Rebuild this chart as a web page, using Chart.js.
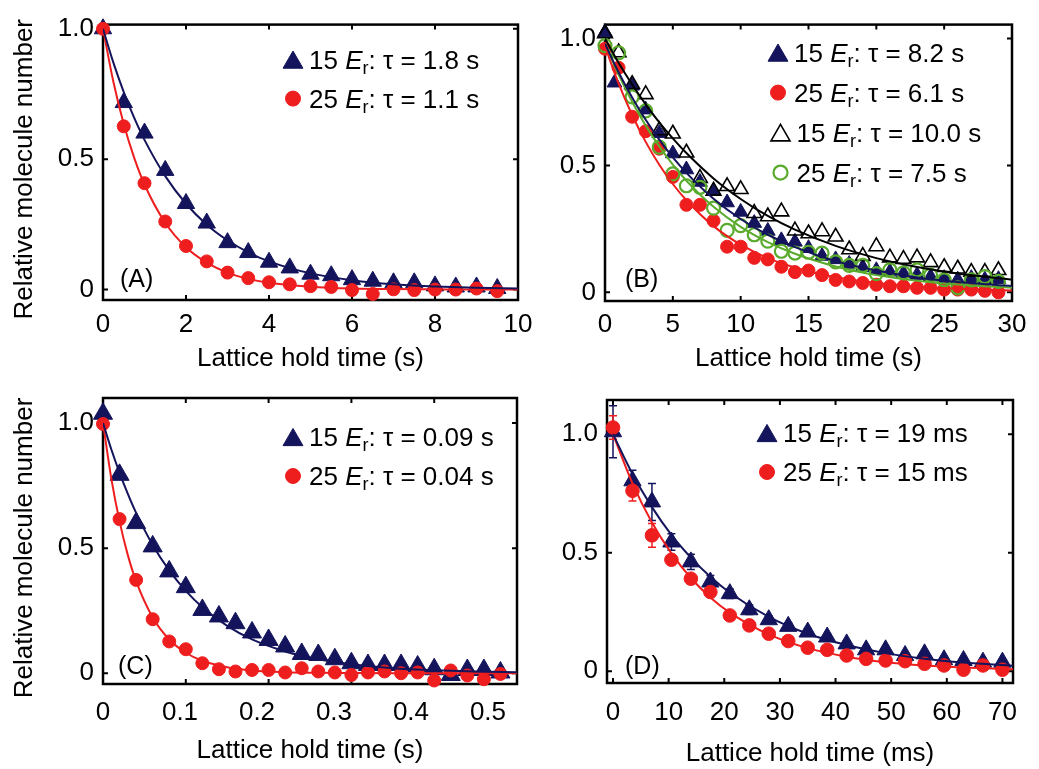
<!DOCTYPE html>
<html>
<head>
<meta charset="utf-8">
<title>Molecule loss in the lattice</title>
<script src="https://cdn.jsdelivr.net/npm/chart.js"></script>
<style>
  html, body { margin: 0; padding: 0; background: #fff; }
  #wrap { position: relative; width: 1039px; height: 769px; }
  #wrap canvas { position: absolute; left: 0; top: 0; }
</style>
</head>
<body>
<div id="wrap">
  <canvas id="panelA" width="1039" height="769"></canvas>
  <canvas id="panelB" width="1039" height="769"></canvas>
  <canvas id="panelC" width="1039" height="769"></canvas>
  <canvas id="panelD" width="1039" height="769"></canvas>
</div>
<script>
const FONT = "'Liberation Sans', Arial, Helvetica, sans-serif"
const NAVY = '#14145c'
const RED = '#ef1e1e'
const GREEN = '#5aab2c'
const BLACK = '#000000'

// shared y axis
const yTickVals = [0, 0.5, 1]
const yTickText = ['0', '0.5', '1.0']

// ---- (A) hold time in s
const aTime = [0, 0.5, 1, 1.5, 2, 2.5, 3, 3.5, 4, 4.5, 5, 5.5, 6, 6.5, 7, 7.5, 8, 8.5, 9, 9.5]
const aNavy = [1.0, 0.717, 0.60, 0.457, 0.33, 0.255, 0.18, 0.142, 0.105, 0.083, 0.059, 0.053, 0.038, 0.032, 0.026, 0.026, 0.014, 0.01, 0.01, 0.004]
const aRed = [1.0, 0.626, 0.408, 0.261, 0.167, 0.108, 0.065, 0.044, 0.028, 0.02, 0.013, 0.01, -0.002, -0.017, 0.001, -0.002, 0, 0, 0.004, -0.006]
const aFitTime = [0, 0.25, 0.5, 0.75, 1, 1.5, 2, 2.5, 3, 3.5, 4, 5, 6, 7, 8, 9, 10]
const aFitNavy = [1, 0.870, 0.757, 0.659, 0.574, 0.435, 0.329, 0.249, 0.189, 0.143, 0.108, 0.062, 0.036, 0.020, 0.012, 0.007, 0.004]
const aFitRed = [1, 0.797, 0.635, 0.506, 0.403, 0.256, 0.162, 0.103, 0.065, 0.041, 0.026, 0.011, 0.004, 0.002, 0.001, 0, 0]
const aXTicks = [0, 2, 4, 6, 8, 10]
const aXTickText = ['0', '2', '4', '6', '8', '10']
const aXMarks = [2, 4, 6, 8]
const aLegendDepth = ['15', '25']
const aLegendTau = ['1.8 s', '1.1 s']

// ---- (B) hold time in s, two data sets per depth
const bTime = [0, 1, 2, 3, 4, 5, 6, 7, 8, 9, 10, 11, 12, 13, 14, 15, 16, 17, 18, 19, 20, 21, 22, 23, 24, 25, 26, 27, 28, 29]
const bTimeNavy = [0, 0.7, 2, 3, 4, 5, 6, 7, 8, 9, 10, 11, 12, 13, 14, 15, 16, 17, 18, 19, 20, 21, 22, 23, 24, 25, 26, 27, 28, 29]
const bNavy = [1.025, 0.826, 0.814, 0.72, 0.627, 0.547, 0.484, 0.435, 0.40, 0.354, 0.317, 0.273, 0.242, 0.205, 0.199, 0.174, 0.143, 0.13, 0.112, 0.099, 0.087, 0.081, 0.075, 0.068, 0.062, 0.056, 0.05, 0.056, 0.05, 0.052]
const bRed = [0.96, 0.885, 0.692, 0.635, 0.566, 0.455, 0.345, 0.345, 0.282, 0.18, 0.18, 0.136, 0.13, 0.101, 0.08, 0.086, 0.068, 0.049, 0.043, 0.037, 0.03, 0.024, 0.024, 0.018, 0.018, 0.011, 0.011, 0.011, 0.006, 0.0]
const bOpen = [1.02, 0.945, 0.82, 0.78, 0.638, 0.625, 0.55, 0.45, 0.40, 0.418, 0.406, 0.312, 0.299, 0.318, 0.243, 0.232, 0.24, 0.219, 0.169, 0.143, 0.181, 0.137, 0.131, 0.137, 0.118, 0.099, 0.093, 0.08, 0.08, 0.087]
const bGreen = [0.972, 0.944, 0.77, 0.715, 0.572, 0.467, 0.42, 0.414, 0.332, 0.244, 0.263, 0.227, 0.202, 0.162, 0.155, 0.158, 0.155, 0.12, 0.106, 0.106, 0.074, 0.089, 0.077, 0.089, 0.068, 0.049, 0.018, 0.049, 0.062, 0.043]
const bFitTime = [0, 1, 2, 3, 4, 5, 6, 8, 10, 12, 14, 17, 20, 23, 26, 30]
const bFitNavy = [0.98, 0.867, 0.768, 0.680, 0.602, 0.532, 0.471, 0.369, 0.289, 0.227, 0.178, 0.123, 0.086, 0.059, 0.041, 0.025]
const bFitRed = [0.97, 0.823, 0.699, 0.593, 0.503, 0.427, 0.363, 0.261, 0.188, 0.135, 0.098, 0.060, 0.037, 0.022, 0.014, 0.007]
const bFitOpen = [1.0, 0.905, 0.819, 0.741, 0.670, 0.607, 0.549, 0.449, 0.368, 0.301, 0.247, 0.183, 0.135, 0.100, 0.074, 0.050]
const bFitGreen = [0.98, 0.858, 0.751, 0.657, 0.575, 0.503, 0.440, 0.337, 0.258, 0.198, 0.152, 0.102, 0.068, 0.046, 0.031, 0.018]
const bXTicks = [0, 5, 10, 15, 20, 25, 30]
const bXTickText = ['0', '5', '10', '15', '20', '25', '30']
const bXMarks = [5, 10, 15, 20, 25]
const bLegendDepth = ['15', '25', '15', '25']
const bLegendTau = ['8.2 s', '6.1 s', '10.0 s', '7.5 s']

// ---- (C) hold time in s
const cTime = [0, 0.02, 0.04, 0.06, 0.08, 0.1, 0.12, 0.14, 0.16, 0.18, 0.2, 0.22, 0.24, 0.26, 0.28, 0.3, 0.32, 0.34, 0.36, 0.38, 0.4, 0.42, 0.44, 0.46, 0.48]
const cNavy = [1.037, 0.793, 0.6, 0.507, 0.407, 0.344, 0.253, 0.227, 0.2, 0.163, 0.133, 0.107, 0.077, 0.073, 0.056, 0.04, 0.033, 0.033, 0.033, 0.027, 0.016, -0.007, 0.013, 0.013, 0.003]
const cRed = [0.996, 0.616, 0.373, 0.216, 0.127, 0.096, 0.04, 0.016, 0.007, 0.013, 0.013, 0.003, 0.02, 0.007, 0.003, -0.007, 0.003, 0.007, 0, 0.003, -0.029, 0.011, -0.009, -0.024, -0.003]
const cFitTime = [0, 0.01, 0.02, 0.03, 0.04, 0.06, 0.08, 0.1, 0.12, 0.15, 0.18, 0.22, 0.26, 0.3, 0.35, 0.4, 0.45, 0.5]
const cFitNavy = [1, 0.895, 0.801, 0.717, 0.641, 0.513, 0.411, 0.329, 0.264, 0.189, 0.135, 0.087, 0.056, 0.036, 0.020, 0.012, 0.007, 0.004]
const cFitRed = [1, 0.779, 0.607, 0.472, 0.368, 0.223, 0.135, 0.082, 0.050, 0.024, 0.011, 0.004, 0.002, 0.001, 0, 0, 0, 0]
// the printed labels of (C) sit a little off its tick marks, so they get their own axis
const cXTicks = [0, 0.1, 0.2, 0.3, 0.4, 0.5]
const cXTickText = ['0', '0.1', '0.2', '0.3', '0.4', '0.5']
const cXMarks = [0.1, 0.2, 0.3, 0.4]
const cLegendDepth = ['15', '25']
const cLegendTau = ['0.09 s', '0.04 s']

// ---- (D) hold time in ms, with error bars
const dTime = [0, 3.5, 7, 10.5, 14, 17.5, 21, 24.5, 28, 31.5, 35, 38.5, 42, 45.5, 49, 52.5, 56, 59.5, 63, 66.5, 70]
const dNavy = [1.01, 0.803, 0.714, 0.545, 0.461, 0.376, 0.327, 0.259, 0.217, 0.189, 0.165, 0.144, 0.115, 0.09, 0.09, 0.066, 0.073, 0.048, 0.045, 0.038, 0.038]
const dNavyErr = [0.11, 0.045, 0.078, 0.035, 0.032, 0.028, 0.02, 0.02, 0.015, 0.015, 0.015, 0.012, 0.012, 0.012, 0.01, 0.01, 0.01, 0.01, 0.01, 0.01, 0.01]
const dRed = [1.028, 0.761, 0.573, 0.47, 0.39, 0.334, 0.235, 0.193, 0.158, 0.127, 0.099, 0.09, 0.066, 0.052, 0.045, 0.042, 0.031, 0.024, 0.006, 0.024, 0.006]
const dRedErr = [0.05, 0.043, 0.05, 0.02, 0.02, 0.015, 0.015, 0.012, 0.012, 0.01, 0.01, 0.01, 0.01, 0.01, 0.01, 0.01, 0.01, 0.01, 0.01, 0.01, 0.01]
const dFitTime = [0, 3.5, 7, 10.5, 14, 17.5, 21, 28, 35, 42, 49, 56, 63, 72]
const dFitNavy = [1.0, 0.832, 0.692, 0.575, 0.479, 0.398, 0.331, 0.229, 0.158, 0.110, 0.076, 0.052, 0.036, 0.023]
const dFitRed = [1.0, 0.792, 0.627, 0.497, 0.393, 0.311, 0.247, 0.155, 0.097, 0.061, 0.038, 0.024, 0.015, 0.008]
const dXTicks = [0, 10, 20, 30, 40, 50, 60, 70]
const dXTickText = ['0', '10', '20', '30', '40', '50', '60', '70']
const dXMarks = [0, 10, 20, 30, 40, 50, 60, 70]
const dLegendDepth = ['15', '25']
const dLegendTau = ['19 ms', '15 ms']

const Y_TITLE = 'Relative molecule number'

function pts(xs, ys) {
  return xs.map((x, i) => ({ x: x, y: ys[i] }))
}

function markers(xs, ys, style, color, r, extra) {
  return Object.assign({
    data: pts(xs, ys),
    showLine: false,
    pointStyle: style,
    pointRadius: r,
    backgroundColor: color,
    borderColor: color,
    pointBorderWidth: 1,
    clip: false,
    order: 1
  }, extra || {})
}

function fitLine(xs, ys, color) {
  return {
    data: pts(xs, ys),
    showLine: true,
    pointRadius: 0,
    borderColor: color,
    borderWidth: 2,
    cubicInterpolationMode: 'monotone',
    fill: false,
    order: 0
  }
}

// "15 Er: τ = 1.8 s" with italic E and subscript r
function legendText(ctx, x, y, depth, tau) {
  let cx = x
  const seg = (txt, font, dy) => {
    ctx.font = font
    ctx.fillText(txt, cx, y + dy)
    cx += ctx.measureText(txt).width
  }
  seg(depth + ' ', '26px ' + FONT, 0)
  seg('E', 'italic 26px ' + FONT, 0)
  seg('r', '18px ' + FONT, 5)
  seg(': \u03c4 = ' + tau, '26px ' + FONT, 0)
}

// frame, inward ticks, error bars, legend, panel tag
function deco(p) {
  return {
    id: 'deco',
    beforeDatasetsDraw(chart) {
      const { ctx, chartArea: a, scales } = chart
      const xs = scales.x, ys = scales.y
      ctx.save()
      ctx.strokeStyle = '#000'
      ctx.lineWidth = 2
      ctx.beginPath()
      p.xMarks.forEach(v => {
        const px = xs.getPixelForValue(v)
        ctx.moveTo(px, a.bottom); ctx.lineTo(px, a.bottom - 5)
        ctx.moveTo(px, a.top); ctx.lineTo(px, a.top + 5)
      })
      yTickVals.forEach(v => {
        const py = ys.getPixelForValue(v)
        ctx.moveTo(a.left, py); ctx.lineTo(a.left + 5, py)
        ctx.moveTo(a.right, py); ctx.lineTo(a.right - 5, py)
      })
      ctx.stroke()
      ctx.lineWidth = 2.5
      ctx.strokeRect(a.left, a.top, a.right - a.left, a.bottom - a.top)

      ;(p.errors || []).forEach(e => {
        ctx.strokeStyle = e.color
        ctx.lineWidth = 1.5
        ctx.beginPath()
        e.xs.forEach((t, i) => {
          const px = xs.getPixelForValue(t)
          const lo = ys.getPixelForValue(e.ys[i] - e.err[i])
          const hi = ys.getPixelForValue(e.ys[i] + e.err[i])
          ctx.moveTo(px, lo); ctx.lineTo(px, hi)
          ctx.moveTo(px - 4, lo); ctx.lineTo(px + 4, lo)
          ctx.moveTo(px - 4, hi); ctx.lineTo(px + 4, hi)
        })
        ctx.stroke()
      })
      ctx.restore()
    },
    afterDraw(chart) {
      const { ctx, chartArea: a } = chart
      ctx.save()
      p.legend.forEach(row => {
        const mx = a.left + row.dx
        const my = a.top + row.dy
        ctx.fillStyle = row.fill
        ctx.strokeStyle = row.stroke
        ctx.lineWidth = row.bw
        const shift = row.style === 'triangle' ? row.r / 4 : 0
        Chart.helpers.drawPoint(ctx, { pointStyle: row.style, radius: row.r, rotation: 0, borderWidth: row.bw }, mx, my + shift)
        ctx.fillStyle = '#000'
        ctx.textAlign = 'left'
        ctx.textBaseline = 'alphabetic'
        legendText(ctx, mx + 16, my + 9, row.depth, row.tau)
      })

      ctx.fillStyle = '#000'
      ctx.font = '25px ' + FONT
      ctx.textAlign = 'left'
      ctx.textBaseline = 'middle'
      ctx.fillText(p.tag, a.left + p.tagPos[0], a.bottom - p.tagPos[1])

      if (p.yTitle) {
        // drawn here so the long title is not squeezed to the axis height
        ctx.translate(a.left - 78, (a.top + a.bottom) / 2 + 7)
        ctx.rotate(-Math.PI / 2)
        ctx.font = '26px ' + FONT
        ctx.textAlign = 'center'
        ctx.fillText(Y_TITLE, 0, 0)
      }
      ctx.restore()
    }
  }
}

function makePanel(p) {
  const tickFont = { family: FONT, size: 26 }
  const labelScale = {
    type: 'linear',
    grid: { display: false, drawTicks: false },
    border: { display: false },
    afterBuildTicks: s => { s.ticks = p.xTicks.map(v => ({ value: v })) },
    afterFit: s => { s.height = p.xAxisH },
    ticks: { font: tickFont, color: '#000', padding: p.xTickPad, maxRotation: 0, autoSkip: false, callback: (v, i) => p.xTickText[i] },
    title: { display: true, text: p.xTitle, font: { family: FONT, size: 26 }, color: '#000', padding: { top: 0, bottom: p.xTitlePad } }
  }
  const scales = {
    y: {
      type: 'linear',
      min: p.yMin,
      max: p.yMax,
      grid: { display: false, drawTicks: false },
      border: { display: false },
      afterBuildTicks: s => { s.ticks = yTickVals.map(v => ({ value: v })) },
      afterFit: s => { s.width = p.yAxisW },
      ticks: { font: tickFont, color: '#000', padding: 9, callback: (v, i) => yTickText[i] }
    }
  }
  if (p.labelRange) {
    scales.x = { type: 'linear', min: p.xMin, max: p.xMax, display: false }
    scales.xl = Object.assign(labelScale, { position: 'bottom', min: p.labelRange[0], max: p.labelRange[1] })
  } else {
    scales.x = Object.assign(labelScale, { min: p.xMin, max: p.xMax })
  }

  return new Chart(document.getElementById(p.id), {
    type: 'scatter',
    data: { datasets: p.datasets },
    options: {
      responsive: false,
      animation: false,
      devicePixelRatio: 1,
      events: [],
      layout: { padding: p.pad },
      plugins: { legend: { display: false }, tooltip: { enabled: false } },
      scales: scales
    },
    plugins: [deco(p)]
  })
}

const CLEAR = 'rgba(0,0,0,0)'

makePanel({
  id: 'panelA',
  pad: { left: 0, top: 13, right: 521, bottom: 384 },
  yAxisW: 103, xAxisH: 85,
  xMin: 0, xMax: 10, yMin: -0.04, yMax: 1.016,
  xTicks: aXTicks, xTickText: aXTickText, xMarks: aXMarks,
  xTickPad: 9, xTitle: 'Lattice hold time (s)', xTitlePad: 11,
  yTitle: true, tag: '(A)', tagPos: [17, 20],
  datasets: [
    fitLine(aFitTime, aFitNavy, NAVY),
    fitLine(aFitTime, aFitRed, RED),
    markers(aTime, aNavy, 'triangle', NAVY, 10, { order: 2 }),
    markers(aTime, aRed, 'circle', RED, 6.5)
  ],
  legend: [
    { style: 'triangle', fill: NAVY, stroke: NAVY, r: 11.5, bw: 1, dx: 190, dy: 35, depth: aLegendDepth[0], tau: aLegendTau[0] },
    { style: 'circle', fill: RED, stroke: RED, r: 7.5, bw: 1, dx: 190, dy: 74, depth: aLegendDepth[1], tau: aLegendTau[1] }
  ]
})

makePanel({
  id: 'panelB',
  pad: { left: 530, top: 14, right: 27, bottom: 384 },
  yAxisW: 75, xAxisH: 84,
  xMin: 0, xMax: 30, yMin: -0.034, yMax: 1.055,
  xTicks: bXTicks, xTickText: bXTickText, xMarks: bXMarks,
  xTickPad: 8, xTitle: 'Lattice hold time (s)', xTitlePad: 11,
  yTitle: false, tag: '(B)', tagPos: [20, 21],
  datasets: [
    fitLine(bFitTime, bFitNavy, NAVY),
    fitLine(bFitTime, bFitRed, RED),
    fitLine(bFitTime, bFitOpen, BLACK),
    fitLine(bFitTime, bFitGreen, GREEN),
    markers(bTimeNavy, bNavy, 'triangle', NAVY, 8.5, { order: 4 }),
    markers(bTime, bRed, 'circle', RED, 6.5, { order: 3 }),
    markers(bTime, bOpen, 'triangle', BLACK, 8.5, { order: 2, backgroundColor: CLEAR, pointBorderWidth: 1.6 }),
    markers(bTime, bGreen, 'circle', GREEN, 6.5, { order: 1, backgroundColor: CLEAR, pointBorderWidth: 2.2 })
  ],
  legend: [
    { style: 'triangle', fill: NAVY, stroke: NAVY, r: 11.5, bw: 1, dx: 173, dy: 28, depth: bLegendDepth[0], tau: bLegendTau[0] },
    { style: 'circle', fill: RED, stroke: RED, r: 7.5, bw: 1, dx: 173, dy: 68, depth: bLegendDepth[1], tau: bLegendTau[1] },
    { style: 'triangle', fill: CLEAR, stroke: BLACK, r: 11, bw: 1.6, dx: 175.5, dy: 108, depth: bLegendDepth[2], tau: bLegendTau[2] },
    { style: 'circle', fill: CLEAR, stroke: GREEN, r: 7, bw: 2.2, dx: 175.5, dy: 148, depth: bLegendDepth[3], tau: bLegendTau[3] }
  ]
})

makePanel({
  id: 'panelC',
  pad: { left: 0, top: 398, right: 522, bottom: 0 },
  yAxisW: 103, xAxisH: 85,
  xMin: 0, xMax: 0.5, labelRange: [0, 0.5377], yMin: -0.043, yMax: 1.1,
  xTicks: cXTicks, xTickText: cXTickText, xMarks: cXMarks,
  xTickPad: 13, xTitle: 'Lattice hold time (s)', xTitlePad: 3,
  yTitle: true, tag: '(C)', tagPos: [15, 17],
  datasets: [
    fitLine(cFitTime, cFitNavy, NAVY),
    fitLine(cFitTime, cFitRed, RED),
    markers(cTime, cNavy, 'triangle', NAVY, 11, { order: 2 }),
    markers(cTime, cRed, 'circle', RED, 6.5)
  ],
  legend: [
    { style: 'triangle', fill: NAVY, stroke: NAVY, r: 11.5, bw: 1, dx: 190, dy: 39, depth: cLegendDepth[0], tau: cLegendTau[0] },
    { style: 'circle', fill: RED, stroke: RED, r: 7.5, bw: 1, dx: 190, dy: 78, depth: cLegendDepth[1], tau: cLegendTau[1] }
  ]
})

makePanel({
  id: 'panelD',
  pad: { left: 530, top: 400, right: 26, bottom: 0 },
  yAxisW: 77, xAxisH: 86,
  xMin: -1.08, xMax: 71.9, yMin: -0.05, yMax: 1.144,
  xTicks: dXTicks, xTickText: dXTickText, xMarks: dXMarks,
  xTickPad: 14, xTitle: 'Lattice hold time (ms)', xTitlePad: 0,
  yTitle: false, tag: '(D)', tagPos: [18, 16],
  datasets: [
    fitLine(dFitTime, dFitNavy, NAVY),
    fitLine(dFitTime, dFitRed, RED),
    markers(dTime, dNavy, 'triangle', NAVY, 10, { order: 2 }),
    markers(dTime, dRed, 'circle', RED, 6.8)
  ],
  errors: [
    { xs: dTime, ys: dNavy, err: dNavyErr, color: NAVY },
    { xs: dTime, ys: dRed, err: dRedErr, color: RED }
  ],
  legend: [
    { style: 'triangle', fill: NAVY, stroke: NAVY, r: 11.5, bw: 1, dx: 160, dy: 33, depth: dLegendDepth[0], tau: dLegendTau[0] },
    { style: 'circle', fill: RED, stroke: RED, r: 7.5, bw: 1, dx: 160, dy: 72, depth: dLegendDepth[1], tau: dLegendTau[1] }
  ]
})
</script>
</body>
</html>
